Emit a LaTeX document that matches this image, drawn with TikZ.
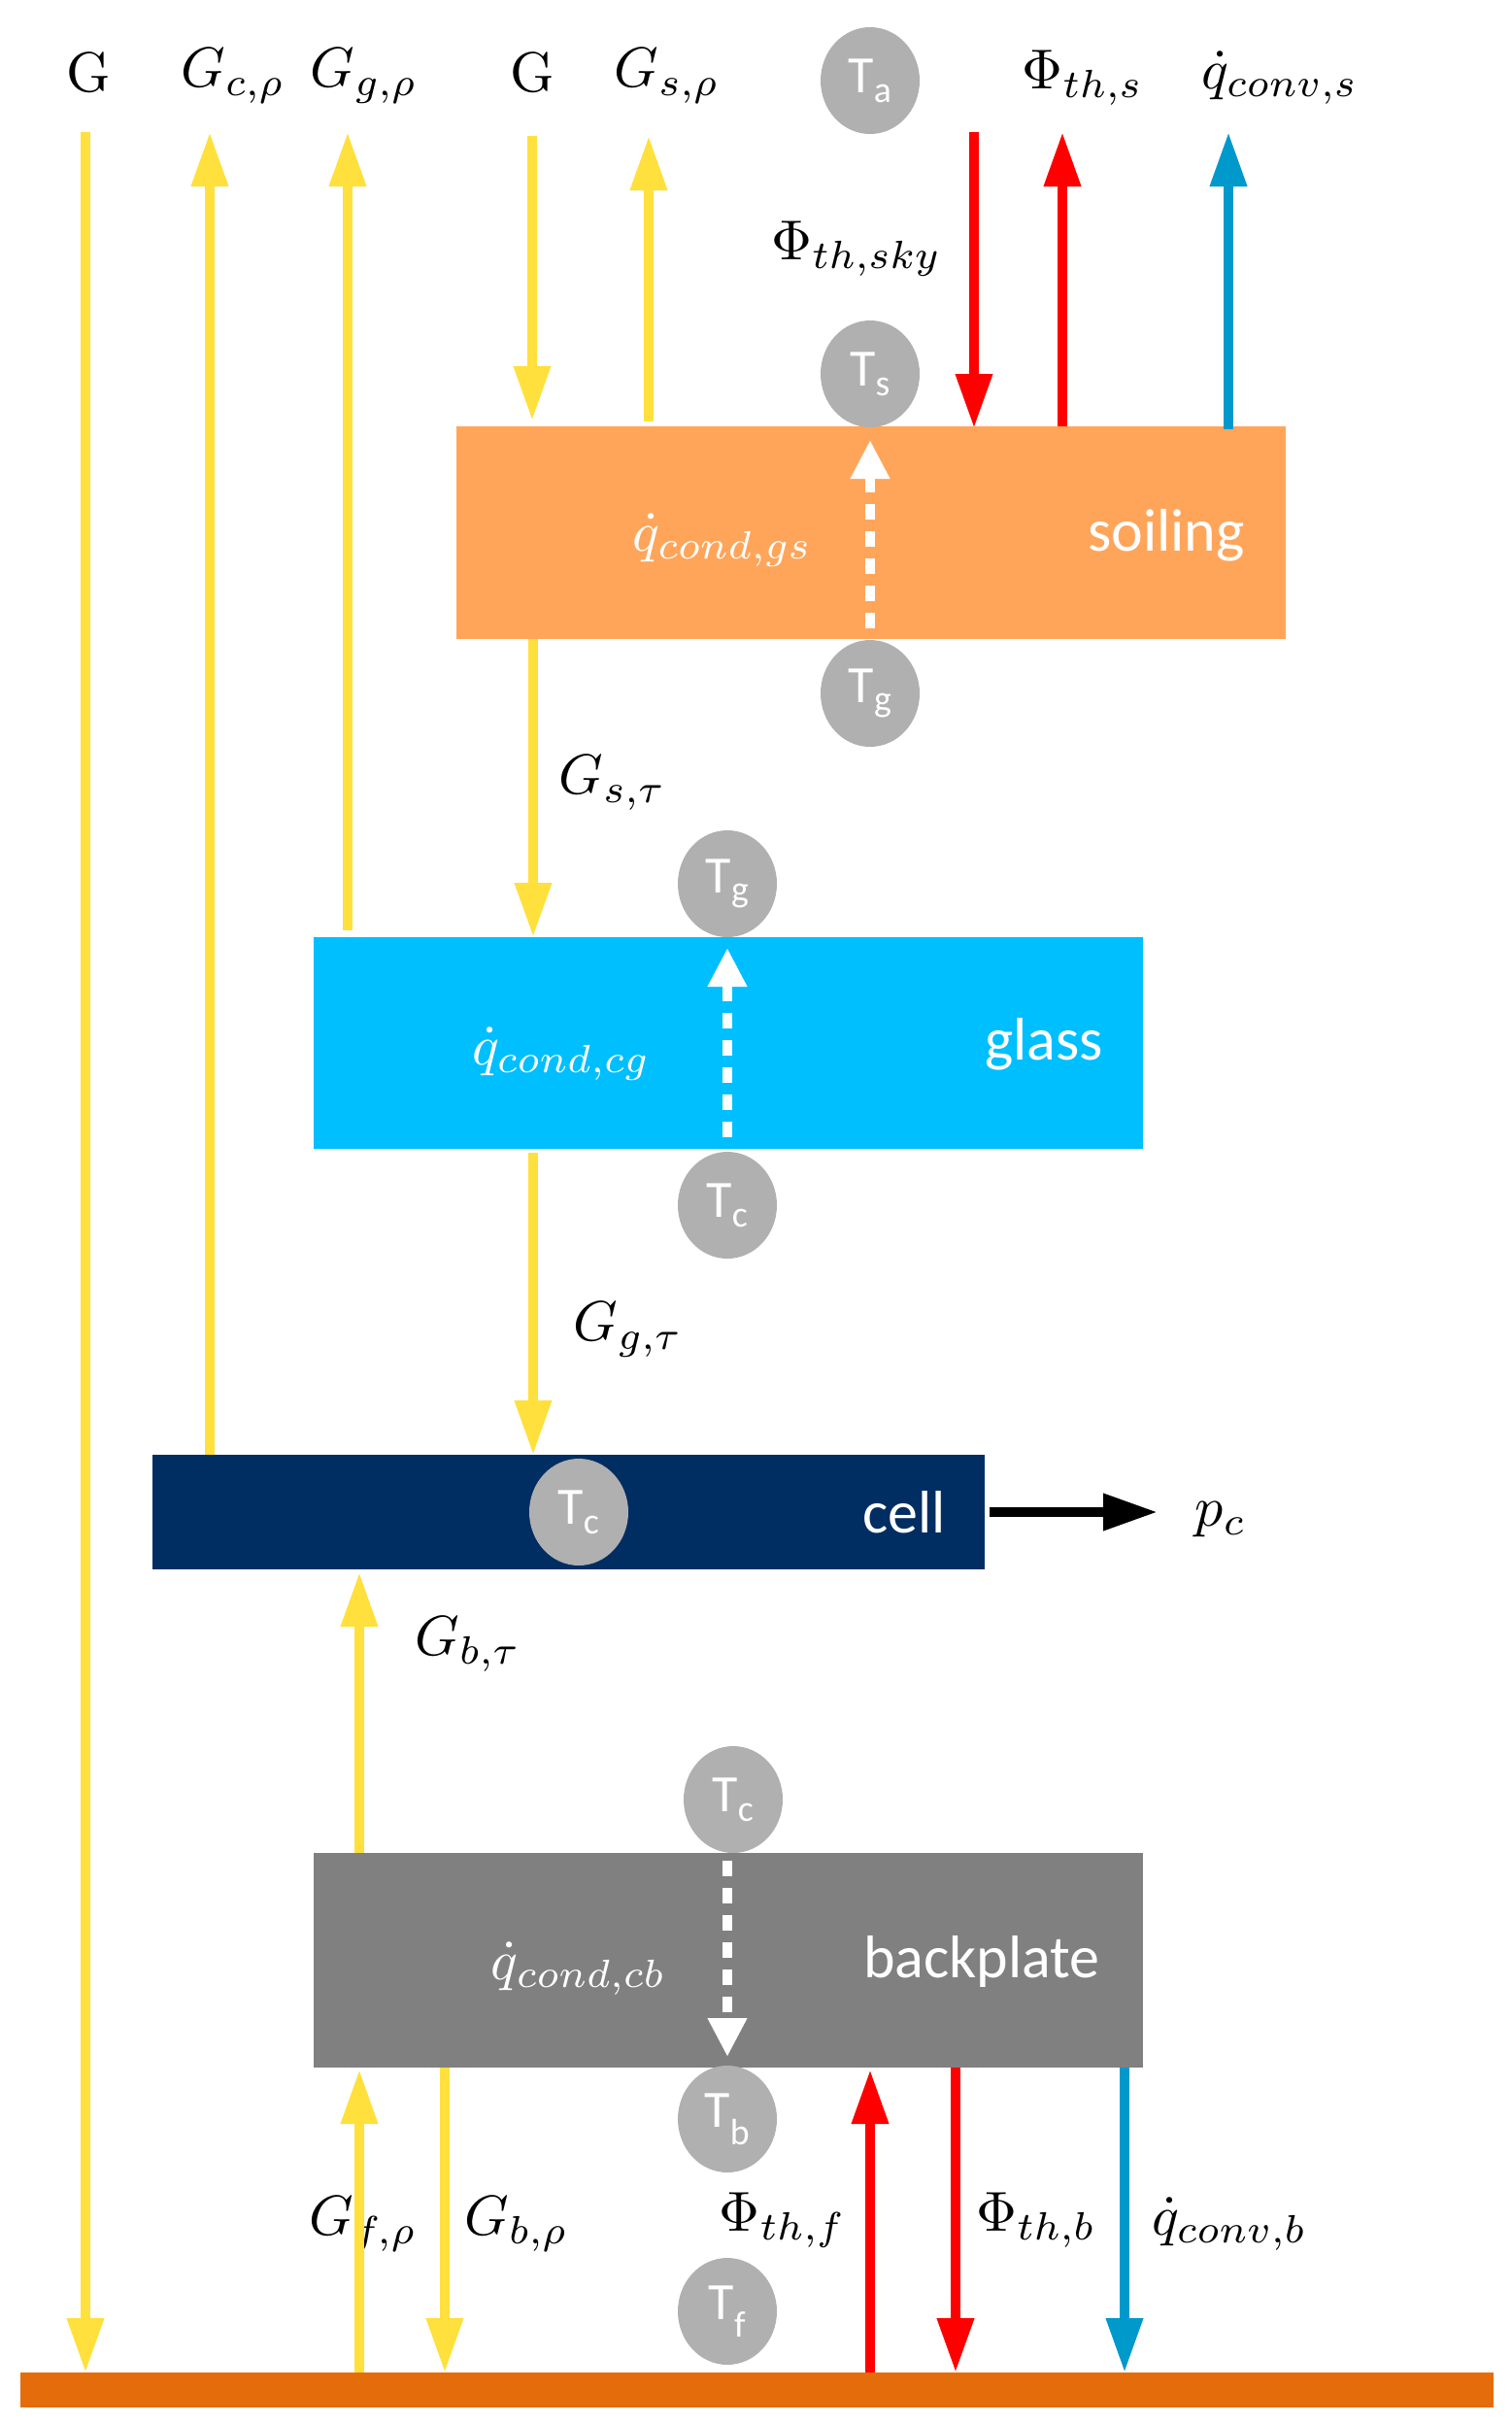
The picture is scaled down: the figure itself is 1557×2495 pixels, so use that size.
\documentclass[tikz,border=0pt]{standalone}
\usepackage{amsmath}
\usepackage{graphicx}
\usepackage{fontspec}
\newfontfamily\carlfont{Carlito}
\newcommand\mybig[1]{\scalebox{5.8}{#1}}
\usetikzlibrary{arrows.meta,shapes.geometric}
\definecolor{ylw}{HTML}{FFE03C}
\definecolor{rd}{HTML}{FF0000}
\definecolor{bl}{HTML}{0099CC}
\definecolor{soil}{HTML}{FFA55A}
\definecolor{gls}{HTML}{00BFFF}
\definecolor{cel}{HTML}{002D62}
\definecolor{bkp}{HTML}{808080}
\definecolor{grd}{HTML}{E46C0A}
\definecolor{tc}{HTML}{B0B0B0}
\begin{document}
\begin{tikzpicture}[x=1pt,y=-1pt,
 arr/.style={line width=10pt,-{Triangle[width=36pt,length=56pt]}},
 Y/.style={arr,ylw}, R/.style={arr,rd}, B/.style={arr,bl},
 dsh/.style={line width=10pt,white,dash pattern=on 16pt off 12pt,-{Triangle[width=38pt,length=40pt]}},
 lbl/.style={inner sep=0pt},
 blk/.style={inner sep=0pt,font=\carlfont\fontsize{62}{66}\selectfont,text=white},
 tn/.style={ellipse,fill=tc,minimum width=102pt,minimum height=110pt,inner sep=0pt,text=white,font=\carlfont\fontsize{54}{58}\selectfont},
 lay/.style={inner sep=0pt,anchor=north west}]
\useasboundingbox (0,0) rectangle (1557,2495);
% layers
\node[lay,fill=soil,minimum width=854pt,minimum height=219pt] (soil) at (470,439) {};
\node[lay,fill=gls,minimum width=854pt,minimum height=218pt] (glass) at (323,965) {};
\node[lay,fill=cel,minimum width=857pt,minimum height=118pt] (cell) at (157,1498) {};
\node[lay,fill=bkp,minimum width=854pt,minimum height=221pt] (back) at (323,1908) {};
\node[lay,fill=grd,minimum width=1517pt,minimum height=36pt] (grd) at (21,2443) {};
% temp nodes
\node[tn] (Ta) at (896,83) {T\textsubscript{a}};
\node[tn] (Ts) at (896,385) {T\textsubscript{s}};
\node[tn] (Tg1) at (896,714) {T\textsubscript{g}};
\node[tn] (Tg2) at (749,910) {T\textsubscript{g}};
\node[tn] (Tc1) at (749,1241) {T\textsubscript{c}};
\node[tn] (Tc2) at (596,1557) {T\textsubscript{c}};
\node[tn] (Tc3) at (755,1853) {T\textsubscript{c}};
\node[tn] (Tb) at (749,2182) {T\textsubscript{b}};
\node[tn] (Tf) at (749,2380) {T\textsubscript{f}};
% top labels
\node[lbl] (lG1) at (91,75) {\mybig{$\mathrm{G}$}};
\node[lbl] (lGc) at (240,78) {\mybig{$G_{c,\rho}$}};
\node[lbl] (lGg) at (375,78) {\mybig{$G_{g,\rho}$}};
\node[lbl] (lG2) at (548,75) {\mybig{$\mathrm{G}$}};
\node[lbl] (lGs) at (687,78) {\mybig{$G_{s,\rho}$}};
\node[lbl] (lPs) at (1115,80) {\mybig{$\Phi_{th,s}$}};
\node[lbl] (lqs) at (1318,80) {\mybig{$\dot q_{conv,s}$}};
\node[lbl] (lsky) at (882,256) {\mybig{$\Phi_{th,sky}$}};
\node[lbl] (lGst) at (631,806) {\mybig{$G_{s,\tau}$}};
\node[lbl] (lGgt) at (647,1369) {\mybig{$G_{g,\tau}$}};
\node[lbl] (lGbt) at (482,1693) {\mybig{$G_{b,\tau}$}};
\node[lbl] (lpc) at (1257,1565) {\mybig{$p_c$}};
\node[lbl] (lGf) at (374,2290) {\mybig{$G_{f,\rho}$}};
\node[lbl] (lGb) at (532,2290) {\mybig{$G_{b,\rho}$}};
\node[lbl] (lPf) at (806,2286) {\mybig{$\Phi_{th,f}$}};
\node[lbl] (lPb) at (1067,2286) {\mybig{$\Phi_{th,b}$}};
\node[lbl] (lqb) at (1266,2290) {\mybig{$\dot q_{conv,b}$}};
% in-layer labels
\node[lbl,text=white] (qgs) at (744,556) {\mybig{$\dot q_{cond,gs}$}};
\node[blk] (tsoil) at (1201,551) {soiling};
\node[lbl,text=white] (qcg) at (578,1085) {\mybig{$\dot q_{cond,cg}$}};
\node[blk] (tglass) at (1075,1075) {glass};
\node[blk] (tcell) at (931,1557) {cell};
\node[lbl,text=white] (qcb) at (596,2027) {\mybig{$\dot q_{cond,cb}$}};
\node[blk] (tback) at (1011,2020) {backplate};
% coordinates
\coordinate (a1) at (88,136); \coordinate (a1e) at (88,2443);
\coordinate (a2) at (216,1498); \coordinate (a2e) at (216,136);
\coordinate (a3) at (358,958); \coordinate (a3e) at (358,136);
\coordinate (a4) at (548,140); \coordinate (a4e) at (548,433);
\coordinate (a5) at (668,434); \coordinate (a5e) at (668,140);
\coordinate (r1) at (1003,136); \coordinate (r1e) at (1003,441);
\coordinate (r2) at (1094,439); \coordinate (r2e) at (1094,136);
\coordinate (b1) at (1265,442); \coordinate (b1e) at (1265,136);
\coordinate (s1) at (549,658); \coordinate (s1e) at (549,965);
\coordinate (g1) at (549,1187); \coordinate (g1e) at (549,1498);
\coordinate (c1) at (370,1908); \coordinate (c1e) at (370,1619);
\coordinate (k1) at (1019,1557); \coordinate (k1e) at (1192,1557);
\coordinate (f1) at (370,2443); \coordinate (f1e) at (370,2131);
\coordinate (f2) at (458,2129); \coordinate (f2e) at (458,2443);
\coordinate (f3) at (896,2443); \coordinate (f3e) at (896,2131);
\coordinate (f4) at (984,2129); \coordinate (f4e) at (984,2443);
\coordinate (f5) at (1158,2129); \coordinate (f5e) at (1158,2443);
\coordinate (d1) at (896,647); \coordinate (d1e) at (896,453);
\coordinate (d2) at (749,1171); \coordinate (d2e) at (749,976);
\coordinate (d3) at (749,1916); \coordinate (d3e) at (749,2118);
% arrows
\draw[Y] (a1) -- (a1e);
\draw[Y] (a2) -- (a2e);
\draw[Y] (a3) -- (a3e);
\draw[Y] (a4) -- (a4e);
\draw[Y] (a5) -- (a5e);
\draw[R] (r1) -- (r1e);
\draw[R] (r2) -- (r2e);
\draw[B] (b1) -- (b1e);
\draw[Y] (s1) -- (s1e);
\draw[Y] (g1) -- (g1e);
\draw[Y] (c1) -- (c1e);
\draw[arr,black] (k1) -- (k1e);
\draw[Y] (f1) -- (f1e);
\draw[Y] (f2) -- (f2e);
\draw[R] (f3) -- (f3e);
\draw[R] (f4) -- (f4e);
\draw[B] (f5) -- (f5e);
\draw[dsh] (d1) -- (d1e);
\draw[dsh] (d2) -- (d2e);
\draw[dsh] (d3) -- (d3e);
\end{tikzpicture}
\end{document}
